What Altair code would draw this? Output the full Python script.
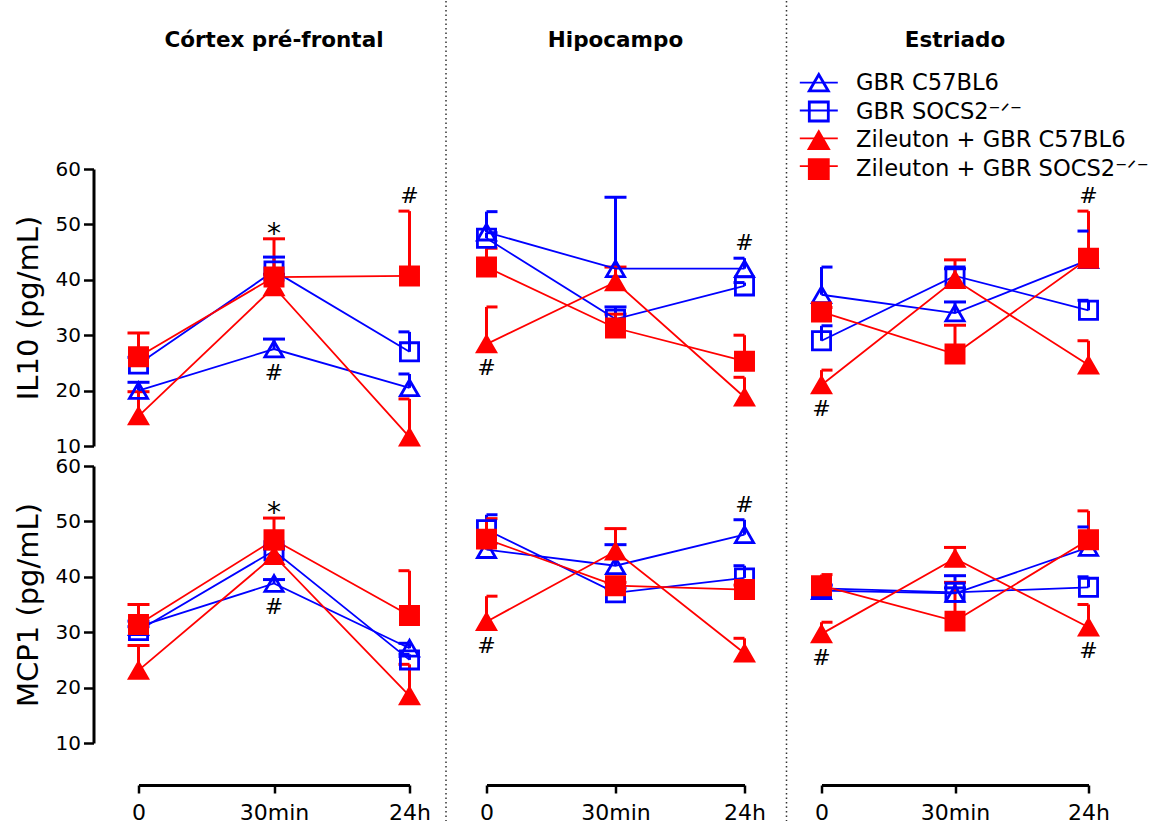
import altair as alt
import pandas as pd

FONT = "DejaVu Sans"

times = ["0", "30min", "24h"]
regions = ["Córtex pré-frontal", "Hipocampo", "Estriado"]
cytokines = ["IL10", "MCP1"]
y_titles = ["IL10 (pg/mL)", "MCP1 (pg/mL)"]
series = ["GBR C57BL6", "GBR SOCS2⁻ᐟ⁻", "Zileuton + GBR C57BL6", "Zileuton + GBR SOCS2⁻ᐟ⁻"]
y_ticks = [10, 20, 30, 40, 50, 60]

# Each list: Córtex (0, 30min, 24h), Hipocampo (0, 30min, 24h), Estriado (0, 30min, 24h)
il10_gbr_c57_mean = [20.0, 27.5, 20.5, 48.6, 42.0, 42.0, 37.3, 34.0, 43.6]
il10_gbr_c57_upper = [21.5, 29.3, 23.0, 52.3, 54.9, 43.9, 42.3, 36.0, 48.8]
il10_gbr_socs2_mean = [24.8, 41.6, 27.0, 47.5, 32.9, 38.9, 29.0, 40.7, 34.5]
il10_gbr_socs2_upper = [26.0, 44.1, 30.6, 48.5, 35.1, 39.5, 31.7, 42.0, 36.3]
il10_zil_c57_mean = [15.4, 38.7, 11.6, 28.4, 39.6, 18.8, 21.0, 40.0, 24.6]
il10_zil_c57_upper = [19.8, 41.0, 18.5, 35.1, 42.3, 22.4, 23.7, 43.6, 29.0]
il10_zil_socs2_mean = [26.1, 40.5, 40.7, 42.3, 31.3, 25.3, 34.2, 26.6, 43.9]
il10_zil_socs2_upper = [30.4, 47.4, 52.4, 45.7, 33.8, 30.0, 35.0, 31.8, 52.4]

mcp1_gbr_c57_mean = [31.0, 38.8, 27.1, 44.9, 42.0, 47.6, 37.5, 37.0, 45.3]
mcp1_gbr_c57_upper = [32.0, 39.5, 28.0, 46.0, 45.8, 50.3, 38.5, 38.0, 49.0]
mcp1_gbr_socs2_mean = [30.3, 44.7, 25.0, 48.5, 37.1, 39.8, 37.9, 37.2, 38.1]
mcp1_gbr_socs2_upper = [31.0, 45.5, 26.0, 51.2, 38.0, 42.0, 38.5, 40.2, 40.0]
mcp1_zil_c57_mean = [23.1, 43.8, 18.5, 31.9, 44.6, 26.2, 29.7, 43.3, 30.9]
mcp1_zil_c57_upper = [27.6, 45.0, 24.2, 36.5, 48.7, 28.9, 31.8, 45.3, 35.0]
mcp1_zil_socs2_mean = [31.4, 46.7, 33.0, 46.8, 38.4, 37.7, 38.4, 32.0, 46.7]
mcp1_zil_socs2_upper = [35.0, 50.6, 41.1, 50.5, 39.0, 38.5, 40.4, 39.0, 51.9]

# significance marks
ann_cytokine = ["IL10", "IL10", "IL10", "IL10", "IL10", "IL10", "IL10",
                "MCP1", "MCP1", "MCP1", "MCP1", "MCP1", "MCP1"]
ann_region = ["Córtex pré-frontal", "Córtex pré-frontal", "Córtex pré-frontal", "Hipocampo", "Hipocampo",
              "Estriado", "Estriado",
              "Córtex pré-frontal", "Córtex pré-frontal", "Hipocampo", "Hipocampo", "Estriado", "Estriado"]
ann_time = ["30min", "24h", "30min", "0", "24h", "0", "24h",
            "30min", "30min", "24h", "0", "0", "24h"]
ann_series = [3, 3, 0, 2, 0, 2, 3,
              3, 0, 0, 2, 2, 2]
ann_symbol = ["*", "#", "#", "#", "#", "#", "#",
              "*", "#", "#", "#", "#", "#"]
ann_side = ["above", "above", "below", "below", "above", "below", "above",
            "above", "below", "above", "below", "below", "below"]

means = {
    "IL10": [il10_gbr_c57_mean, il10_gbr_socs2_mean, il10_zil_c57_mean, il10_zil_socs2_mean],
    "MCP1": [mcp1_gbr_c57_mean, mcp1_gbr_socs2_mean, mcp1_zil_c57_mean, mcp1_zil_socs2_mean],
}
uppers = {
    "IL10": [il10_gbr_c57_upper, il10_gbr_socs2_upper, il10_zil_c57_upper, il10_zil_socs2_upper],
    "MCP1": [mcp1_gbr_c57_upper, mcp1_gbr_socs2_upper, mcp1_zil_c57_upper, mcp1_zil_socs2_upper],
}

rows = []
for cyt in cytokines:
    for si, s in enumerate(series):
        for ri, r in enumerate(regions):
            for ti, t in enumerate(times):
                k = ri * 3 + ti
                rows.append(dict(cytokine=cyt, region=r, series=s, series2=s, time=t, t=ti,
                                 mean=means[cyt][si][k], upper=uppers[cyt][si][k]))
df = pd.DataFrame(rows)

arows = []
for c, r, t, si, sym, side in zip(ann_cytokine, ann_region, ann_time, ann_series, ann_symbol, ann_side):
    k = regions.index(r) * 3 + times.index(t)
    val = uppers[c][si][k] if side == "above" else means[c][si][k]
    arows.append(dict(cytokine=c, region=r, time=t, symbol=sym, side=side, yv=val))
adf = pd.DataFrame(arows)

widths = [271, 258, 267]
H = 277
GAP = 20
sep_x = [None, -40.5, -35]
title_offset = [108, 118, 118]

LX, LY = 669, -97.6
leg_common = dict(orient="none", legendX=LX, legendY=LY, title=None,
                  labelFont=FONT, labelFontSize=22.6, labelLimit=500,
                  symbolSize=361, labelOffset=26, padding=0)
pt_legend = alt.Legend(symbolStrokeWidth=2.8, symbolOpacity=1, labelColor="black",
                       rowPadding=-1.2, **leg_common)
line_legend = alt.Legend(symbolType="M-2,0H2", symbolStrokeWidth=1.8, symbolOpacity=1,
                         labelColor="rgba(0,0,0,0)", rowPadding=4.8, **leg_common)

line_color = alt.Color("series2:N", scale=alt.Scale(range=["blue", "blue", "red", "red"]),
                       legend=line_legend)
pt_shape = alt.Shape("series:N", scale=alt.Scale(domain=series,
                     range=["triangle-up", "square", "triangle-up", "square"]), legend=pt_legend)
pt_fill = alt.Fill("series:N", scale=alt.Scale(domain=series,
                   range=["transparent", "transparent", "red", "red"]), legend=pt_legend)
pt_stroke = alt.Stroke("series:N", scale=alt.Scale(domain=series,
                       range=["blue", "blue", "red", "red"]), legend=pt_legend)


def panel(ci, ri):
    cyt = cytokines[ci]
    region = regions[ri]
    d = df[(df.cytokine == cyt) & (df.region == region)]
    a = adf[(adf.cytokine == cyt) & (adf.region == region)]

    x_scale = alt.Scale(type="point", domain=times, padding=0)
    if ci == 1:
        x_axis = alt.Axis(offset=42, domainWidth=3, domainColor="black", tickColor="black",
                          tickWidth=2.5, tickSize=8, labelFont=FONT, labelFontSize=22,
                          labelColor="black", labelPadding=9, labelAngle=0, grid=False,
                          labelFlush=False, title=None)
    else:
        x_axis = None
    y_scale = alt.Scale(domain=[10, 60], nice=False, zero=False)
    if ri == 0:
        y_axis = alt.Axis(values=y_ticks, offset=45, domainWidth=3, domainColor="black",
                          tickColor="black", tickWidth=2.5, tickSize=10, labelFont=FONT,
                          labelFontSize=20, labelColor="black", labelPadding=3, labelFlush=False,
                          title=y_titles[ci], titleFont=FONT, titleFontSize=29,
                          titleFontWeight="normal", titleColor="black", titlePadding=12, grid=False)
    else:
        y_axis = None

    X = alt.X("time:O", scale=x_scale, axis=x_axis, title=None)

    def Y(field):
        return alt.Y(field, type="quantitative", scale=y_scale, axis=y_axis)

    base = alt.Chart(d)
    layers = []
    layers.append(base.mark_rule(strokeWidth=3).encode(x=X, y=Y("mean"), y2="upper:Q", color=line_color))
    full_t = ["30min"] + (["0"] if ri == 0 else [])
    right_t = [] if ri == 0 else ["0"]
    left_t = ["24h"]
    layers.append(base.mark_tick(thickness=3, size=22, opacity=1)
                  .transform_filter(alt.FieldOneOfPredicate(field="time", oneOf=full_t))
                  .encode(x=X, y=Y("upper"), color=line_color))
    if right_t:
        layers.append(base.mark_tick(thickness=3, size=11, xOffset=5.5, opacity=1)
                      .transform_filter(alt.FieldOneOfPredicate(field="time", oneOf=right_t))
                      .encode(x=X, y=Y("upper"), color=line_color))
    layers.append(base.mark_tick(thickness=3, size=11, xOffset=-5.5, opacity=1)
                  .transform_filter(alt.FieldOneOfPredicate(field="time", oneOf=left_t))
                  .encode(x=X, y=Y("upper"), color=line_color))
    layers.append(base.mark_line(strokeWidth=1.8).encode(x=X, y=Y("mean"), color=line_color,
                                                         order=alt.Order("t:Q")))
    layers.append(base.mark_point(size=330, strokeWidth=2.8, opacity=1).encode(
        x=X, y=Y("mean"), shape=pt_shape, fill=pt_fill, stroke=pt_stroke))

    ab = alt.Chart(a)
    hash_above = a[(a.side == "above") & (a.symbol == "#")]
    star_above = a[(a.side == "above") & (a.symbol == "*")]
    below = a[a.side == "below"]
    if len(hash_above):
        layers.append(ab.mark_text(font=FONT, fontSize=22, color="black", dy=-15, baseline="middle")
                      .transform_filter((alt.datum.side == "above") & (alt.datum.symbol == "#"))
                      .encode(x=X, y=Y("yv"), text="symbol:N"))
    if len(star_above):
        layers.append(ab.mark_text(font=FONT, fontSize=28, color="black", dy=-4, baseline="middle")
                      .transform_filter((alt.datum.side == "above") & (alt.datum.symbol == "*"))
                      .encode(x=X, y=Y("yv"), text="symbol:N"))
    if len(below):
        layers.append(ab.mark_text(font=FONT, fontSize=22, color="black", dy=24, baseline="middle")
                      .transform_filter(alt.datum.side == "below")
                      .encode(x=X, y=Y("yv"), text="symbol:N"))

    # dotted separators between the brain regions (drawn from the lower row, spanning both rows)
    if ci == 1 and sep_x[ri] is not None:
        layers.append(alt.Chart(pd.DataFrame({"k": [0]})).mark_rule(
            strokeDash=[1.5, 3], strokeWidth=1.5, color="#333333").encode(
            x=alt.value(sep_x[ri]), y=alt.value(-(168 + H + GAP)), y2=alt.value(H + 78)))

    props = dict(width=widths[ri], height=H)
    if ci == 0:
        props["title"] = alt.TitleParams(text=region, font=FONT, fontSize=21.5, fontWeight="bold",
                                         color="black", offset=title_offset[ri], anchor="middle",
                                         frame="group")
    return alt.layer(*layers).properties(**props)


cells = [panel(ci, ri) for ci in range(2) for ri in range(3)]

chart = alt.concat(*cells, columns=3, spacing={"row": GAP, "column": 77}, bounds="flush").properties(
    padding={"left": 13.5, "top": 0, "right": 0, "bottom": 0}
).configure(font=FONT, background="white").configure_view(strokeWidth=0, stroke="transparent")

chart.save("out.html", embed_options={"renderer": "svg", "actions": False})
